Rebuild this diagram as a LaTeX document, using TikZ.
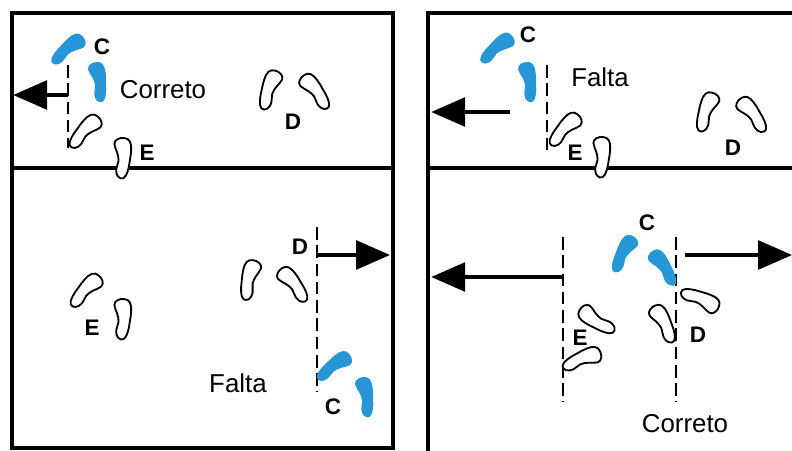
\documentclass[tikz,border=0pt]{standalone}
\usepackage{fontspec}
\setmainfont{Liberation Sans}
\usetikzlibrary{arrows.meta}
\definecolor{footblue}{RGB}{38,150,214}
\tikzset{
  foot/.pic={\path[pic actions] plot[smooth cycle,tension=0.7] coordinates
    {(-0.02,0.50) (0.15,0.46) (0.22,0.33) (0.13,0.12) (0.08,-0.08) (0.12,-0.30)
     (0.06,-0.47) (-0.08,-0.50) (-0.17,-0.32) (-0.20,-0.05) (-0.21,0.22) (-0.16,0.43)};},
  bluefoot/.style={fill=footblue},
  blackfoot/.style={draw=black,fill=white,line width=1.3pt},
  frame/.style={line width=2.8pt},
  mark line/.style={line width=1pt,dash pattern=on 9pt off 4pt},
  walk/.style={line width=2.6pt,-{Triangle[length=0.85cm,width=0.72cm]}},
  side/.style={font=\fontsize{16}{16}\selectfont\bfseries},
  verdict/.style={font=\fontsize{18.4}{18.4}\selectfont}
}
\begin{document}
\begin{tikzpicture}
        \useasboundingbox (0,0) rectangle (19.8,11.25);
        \draw [frame] (0.29,0.06) rectangle (9.825,10.925);
        \draw [frame] (0.29,7.05) -- (9.825,7.05);
        \draw [frame] (19.9,10.925) -- (10.7,10.925) -- (10.7,-0.1);
        \draw [frame] (10.7,7.05) -- (19.9,7.05);
        % upper left
        \coordinate (tl top) at (1.7,9.625);
        \coordinate (tl bot) at (1.7,7.55);
        \coordinate (tl start) at (1.7,8.875);
        \coordinate (tl end) at (0.33,8.875);
        \draw [mark line] (tl top) -- (tl bot);
        \draw [walk] (tl start) -- (tl end);
        \pic [bluefoot,rotate=-47] at (1.7,10.0) {foot};
        \pic [bluefoot,rotate=5,xscale=-1] at (2.45,9.2) {foot};
        \pic [blackfoot,rotate=-40] at (2.125,7.95) {foot};
        \pic [blackfoot,rotate=-5,xscale=-1] at (3.05,7.3) {foot};
        \pic [blackfoot,rotate=-16] at (6.75,9.0) {foot};
        \pic [blackfoot,rotate=34,xscale=-1] at (7.875,8.95) {foot};
        \node [side] (tl c) at (2.55,10.075) {C};
        \node [side] (tl d) at (7.325,8.2) {D};
        \node [side] (tl e) at (3.675,7.425) {E};
        \node [verdict] (tl ok) at (4.075,9.0) {Correto};
        % upper right
        \coordinate (tr top) at (13.675,9.625);
        \coordinate (tr bot) at (13.675,7.5);
        \coordinate (tr start) at (12.75,8.45);
        \coordinate (tr end) at (10.78,8.45);
        \draw [mark line] (tr top) -- (tr bot);
        \draw [walk] (tr start) -- (tr end);
        \pic [bluefoot,rotate=-47] at (12.425,10.025) {foot};
        \pic [bluefoot,rotate=5,xscale=-1] at (13.2,9.2) {foot};
        \pic [blackfoot,rotate=-40] at (14.125,8.0) {foot};
        \pic [blackfoot,rotate=-5,xscale=-1] at (15.025,7.325) {foot};
        \pic [blackfoot,rotate=-16] at (17.675,8.45) {foot};
        \pic [blackfoot,rotate=34,xscale=-1] at (18.8,8.375) {foot};
        \node [side] (tr c) at (13.2,10.375) {C};
        \node [side] (tr d) at (18.325,7.55) {D};
        \node [side] (tr e) at (14.375,7.425) {E};
        \node [verdict] (tr miss) at (15.0,9.325) {Falta};
        % lower left
        \coordinate (bl top) at (7.925,5.575);
        \coordinate (bl bot) at (7.925,1.45);
        \coordinate (bl start) at (7.95,4.875);
        \coordinate (bl end) at (9.75,4.875);
        \draw [mark line] (bl top) -- (bl bot);
        \draw [walk] (bl start) -- (bl end);
        \pic [blackfoot,rotate=-10] at (6.25,4.25) {foot};
        \pic [blackfoot,rotate=35,xscale=-1] at (7.325,4.125) {foot};
        \pic [blackfoot,rotate=-40] at (2.15,3.975) {foot};
        \pic [blackfoot,rotate=-5,xscale=-1] at (3.05,3.275) {foot};
        \pic [bluefoot,rotate=-50] at (8.35,2.075) {foot};
        \pic [bluefoot,rotate=5,xscale=-1] at (9.125,1.325) {foot};
        \node [side] (bl d) at (7.5,5.075) {D};
        \node [side] (bl e) at (2.3,3.05) {E};
        \node [side] (bl c) at (8.325,1.075) {C};
        \node [verdict] (bl miss) at (5.95,1.675) {Falta};
        % lower right
        \coordinate (br ltop) at (14.075,5.325);
        \coordinate (br lbot) at (14.075,1.2);
        \coordinate (br rtop) at (16.9,5.325);
        \coordinate (br rbot) at (16.9,1.2);
        \coordinate (br lstart) at (14.075,4.325);
        \coordinate (br lend) at (10.78,4.325);
        \coordinate (br rstart) at (17.125,4.875);
        \coordinate (br rend) at (19.8,4.875);
        \draw [mark line] (br ltop) -- (br lbot);
        \draw [mark line] (br rtop) -- (br rbot);
        \draw [walk] (br lstart) -- (br lend);
        \draw [walk] (br rstart) -- (br rend);
        \pic [bluefoot,rotate=-25] at (15.6,4.9) {foot};
        \pic [bluefoot,rotate=30,xscale=-1] at (16.575,4.55) {foot};
        \pic [blackfoot,rotate=-110] at (17.5,3.75) {foot};
        \pic [blackfoot,rotate=24,xscale=-1] at (16.575,3.15) {foot};
        \pic [blackfoot,rotate=60] at (14.925,3.25) {foot};
        \pic [blackfoot,rotate=-65] at (14.55,2.25) {foot};
        \node [side] (br c) at (16.175,5.675) {C};
        \node [side] (br d) at (17.45,2.875) {D};
        \node [side] (br e) at (14.5,2.8) {E};
        \node [verdict] (br ok) at (17.125,0.65) {Correto};
      \end{tikzpicture}
\end{document}
